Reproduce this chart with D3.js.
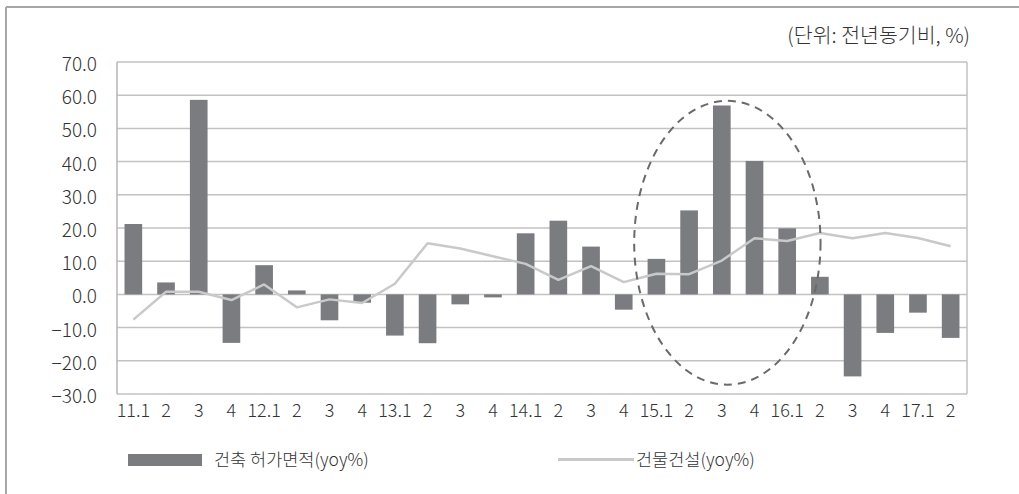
<!DOCTYPE html>
<html>
<head>
<meta charset="utf-8">
<script src="https://cdn.jsdelivr.net/npm/d3@7"></script>
<style>
  html, body { margin: 0; padding: 0; background: #fff; }
  svg { display: block; }
  text { font-family: "Noto Sans CJK KR", "Noto Sans", sans-serif; font-weight: 300; fill: #333; }
</style>
</head>
<body>
<svg id="chart" width="1019" height="494"></svg>
<script>
// Quarterly categories (year.quarter)
const categories = ["11.1","2","3","4","12.1","2","3","4","13.1","2","3","4",
                    "14.1","2","3","4","15.1","2","3","4","16.1","2","3","4","17.1","2"];
// 건축 허가면적 (yoy %)
const permitArea = [21.2, 3.6, 58.6, -14.6, 8.8, 1.2, -7.8, -2.5, -12.4, -14.7, -3.0, -0.9,
                    18.4, 22.2, 14.4, -4.6, 10.7, 25.3, 56.9, 40.2, 19.9, 5.3, -24.7, -11.6, -5.5, -13.1];
// 건물건설 (yoy %)
const construction = [-7.6, 0.8, 0.8, -1.7, 3.0, -3.9, -1.5, -2.6, 3.2, 15.4, 13.8, 11.5,
                      9.2, 4.4, 8.5, 3.7, 6.2, 6.1, 10.2, 16.9, 16.1, 18.5, 16.9, 18.5, 17.0, 14.5];
// y-axis ticks
const yTicks = [70, 60, 50, 40, 30, 20, 10, 0, -10, -20, -30];
const seriesNames = ["건축 허가면적(yoy%)", "건물건설(yoy%)"];
const unitLabel = "(단위: 전년동기비, %)";

const barColor = "#7b7c80";
const lineColor = "#c9c9c9";
const gridColor = "#c2c2c2";

const svg = d3.select("#chart");
const plot = { left: 117, right: 967, top: 62, bottom: 394 };

// outer frame (top and left edges)
svg.append("line").attr("x1", 6).attr("x2", 1019).attr("y1", 7).attr("y2", 7)
  .attr("stroke", "#a6a6a6").attr("stroke-width", 2);
svg.append("line").attr("x1", 6).attr("x2", 6).attr("y1", 7).attr("y2", 494)
  .attr("stroke", "#a6a6a6").attr("stroke-width", 2);

const x = d3.scaleBand().domain(d3.range(categories.length))
  .range([plot.left, plot.right]).paddingInner(0).paddingOuter(0);
const y = d3.scaleLinear().domain([-30, 70]).range([plot.bottom, plot.top]);

// horizontal grid
svg.append("g").selectAll("line").data(yTicks).join("line")
  .attr("x1", plot.left).attr("x2", plot.right)
  .attr("y1", d => y(d)).attr("y2", d => y(d))
  .attr("stroke", gridColor).attr("stroke-width", 1.5);
// side edges of plot area
svg.append("line").attr("x1", plot.left).attr("x2", plot.left)
  .attr("y1", plot.top).attr("y2", plot.bottom).attr("stroke", "#b5b5b5").attr("stroke-width", 1.5);
svg.append("line").attr("x1", plot.right).attr("x2", plot.right)
  .attr("y1", plot.top).attr("y2", plot.bottom).attr("stroke", gridColor).attr("stroke-width", 1.5);

// y axis labels
const fmtY = d => (d < 0 ? "\u2212" + Math.abs(d).toFixed(1) : d.toFixed(1));
const yAxis = svg.append("g").attr("transform", `translate(${plot.left},0)`)
  .call(d3.axisLeft(y).tickValues(yTicks).tickFormat(fmtY).tickSize(0).tickPadding(20));
yAxis.select(".domain").remove();
yAxis.selectAll("text").attr("font-size", 19).attr("font-family", null).attr("fill", "#333")
  .attr("dy", "0.45em");

// x axis labels
const xAxis = svg.append("g").attr("transform", `translate(0,${plot.bottom})`)
  .call(d3.axisBottom(x).tickFormat(i => categories[i]).tickSize(0).tickPadding(10));
xAxis.select(".domain").remove();
xAxis.selectAll("text").attr("font-size", 18).attr("font-family", null).attr("fill", "#333");

// bars
const barW = x.bandwidth() * 0.54;
svg.append("g").selectAll("rect").data(permitArea).join("rect")
  .attr("x", (d, i) => x(i) + (x.bandwidth() - barW) / 2)
  .attr("width", barW)
  .attr("y", d => y(Math.max(0, d)))
  .attr("height", d => Math.abs(y(d) - y(0)))
  .attr("fill", barColor);

// construction line
const line = d3.line().x((d, i) => x(i) + x.bandwidth() / 2).y(d => y(d));
svg.append("path").datum(construction)
  .attr("d", line).attr("fill", "none")
  .attr("stroke", lineColor).attr("stroke-width", 2.5).attr("stroke-linejoin", "round");

// dashed highlight around the 2015–16 surge
const hlCenter = 18.67, hlHalfWidth = 2.85, hlTop = 58.3, hlBottom = -27.2;
svg.append("ellipse")
  .attr("cx", plot.left + hlCenter * x.bandwidth())
  .attr("cy", (y(hlTop) + y(hlBottom)) / 2)
  .attr("rx", hlHalfWidth * x.bandwidth())
  .attr("ry", (y(hlBottom) - y(hlTop)) / 2)
  .attr("fill", "none").attr("stroke", "#6a6a6a").attr("stroke-width", 2)
  .attr("stroke-dasharray", "8,6");

// unit label
svg.append("text").attr("x", 970).attr("y", 43).attr("text-anchor", "end")
  .attr("font-size", 20.5).text(unitLabel);

// legend
const lg = svg.append("g");
lg.append("rect").attr("x", 128).attr("y", 454).attr("width", 74).attr("height", 12).attr("fill", barColor);
lg.append("text").attr("x", 214).attr("y", 466).attr("font-size", 17.5).text(seriesNames[0]);
lg.append("line").attr("x1", 558).attr("x2", 634).attr("y1", 459.5).attr("y2", 459.5)
  .attr("stroke", lineColor).attr("stroke-width", 3);
lg.append("text").attr("x", 636).attr("y", 466).attr("font-size", 17.5).text(seriesNames[1]);
</script>
</body>
</html>
